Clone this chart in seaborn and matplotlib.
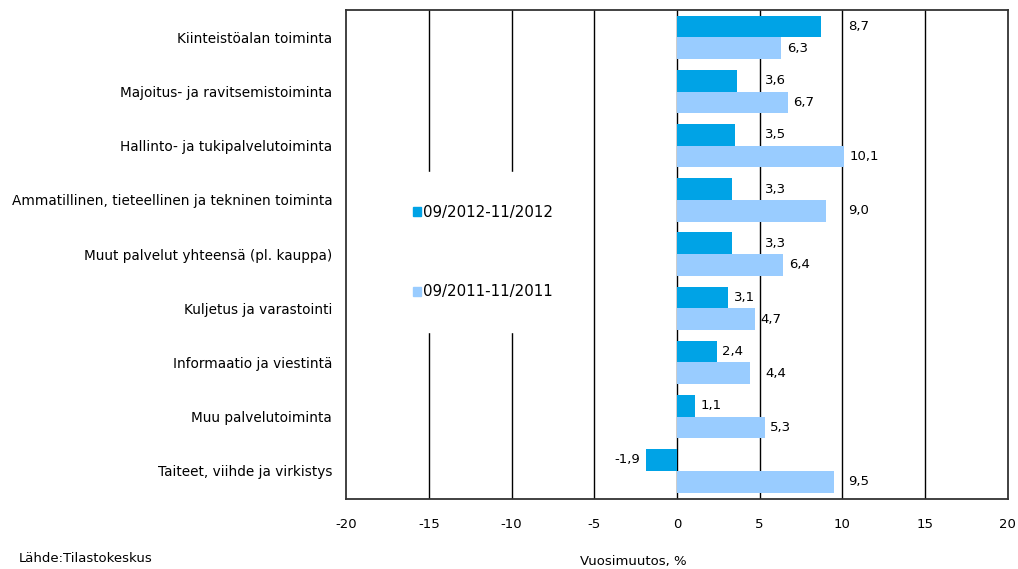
import numpy as np
import pandas as pd
import matplotlib
matplotlib.use('Agg')
import matplotlib.pyplot as plt
import seaborn as sns

sns.set_theme(style='white')
plt.rcParams['font.family'] = ['DejaVu Sans']
plt.rcParams['text.color'] = 'black'
plt.rcParams['xtick.color'] = 'black'
plt.rcParams['ytick.color'] = 'black'
plt.rcParams['axes.labelcolor'] = 'black'

categories = ["Kiinteistöalan toiminta",
              "Majoitus- ja ravitsemistoiminta",
              "Hallinto- ja tukipalvelutoiminta",
              "Ammatillinen, tieteellinen ja tekninen toiminta",
              "Muut palvelut yhteensä (pl. kauppa)",
              "Kuljetus ja varastointi",
              "Informaatio ja viestintä",
              "Muu palvelutoiminta",
              "Taiteet, viihde ja virkistys"]
periods = ["09/2012-11/2012", "09/2011-11/2011"]
val_2012 = [8.7, 3.6, 3.5, 3.3, 3.3, 3.1, 2.4, 1.1, -1.9]
val_2011 = [6.3, 6.7, 10.1, 9.0, 6.4, 4.7, 4.4, 5.3, 9.5]
xticks = [-20, -15, -10, -5, 0, 5, 10, 15, 20]
colors = ['#00A3E6', '#99CCFF']

df = pd.DataFrame({
    'cat': categories * 2,
    'value': val_2012 + val_2011,
    'period': [periods[0]] * len(categories) + [periods[1]] * len(categories),
})

fig = plt.figure(figsize=(10.18, 5.69), dpi=100)
ax = fig.add_axes([0.340, 0.123, 0.650, 0.859])

ax.set_axisbelow(True)
for t in xticks[1:-1]:
    ax.axvline(t, color='black', lw=1.0, zorder=0)

sns.barplot(data=df, y='cat', x='value', hue='period', orient='h',
            palette=colors, saturation=1, width=0.8, linewidth=0,
            ax=ax, legend=False, zorder=2)

ax.set_xlim(-20, 20)
ax.set_ylim(8.52, -0.5)
ax.set_xticks(xticks)
ax.set_xticklabels([str(t) for t in xticks], fontsize=9.5)
ax.tick_params(axis='x', direction='inout', length=7, width=1, pad=10)
ax.tick_params(axis='y', length=0, pad=10, labelsize=9.8)
ax.set_ylabel('')
ax.set_xlabel('Vuosimuutos, %', fontsize=9.5)
ax.xaxis.set_label_coords((633 - 346) / 662, -0.115)
for sp in ax.spines.values():
    sp.set_color('#333333')
    sp.set_linewidth(1.3)

# value labels, pushed past a gridline if they would overlap it
pad, wid = 0.35, 1.5
for bar in ax.patches:
    v = bar.get_width()
    if bar.get_height() == 0:
        continue
    yc = bar.get_y() + bar.get_height() / 2
    txt = f"{v:.1f}".replace('.', ',')
    if v >= 0:
        x0 = v + pad
        crossing = [g for g in xticks if x0 < g < x0 + wid]
        if crossing:
            x0 = crossing[-1] + pad
        ax.text(x0, yc, txt, ha='left', va='center', fontsize=9.5)
    else:
        x0 = v - pad
        ax.text(x0, yc, txt, ha='right', va='center', fontsize=9.5)

handles = [plt.Rectangle((0, 0), 1, 1, color=c) for c in colors]
leg = ax.legend(handles, periods, loc='center', bbox_to_anchor=(0.207, 0.505),
                fontsize=10.8, frameon=True, fancybox=False, framealpha=1,
                borderpad=2.2, labelspacing=4.3, handlelength=0.55,
                handleheight=0.55, handletextpad=0.1)
leg.get_frame().set_facecolor('white')
leg.get_frame().set_edgecolor('white')
leg.set_zorder(3)

fig.text(0.018, 0.018, 'Lähde:Tilastokeskus', fontsize=9.5, va='center', ha='left')

fig.savefig('out.png', dpi=100)
